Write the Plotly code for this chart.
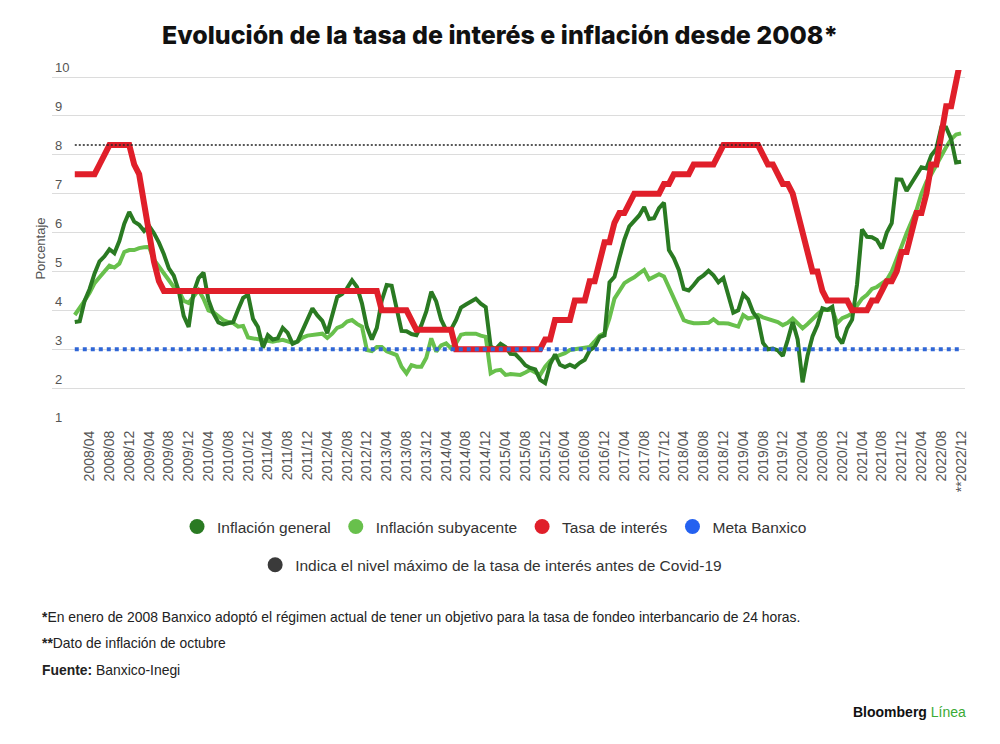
import plotly.graph_objects as go

# Monthly series, 2008/01 .. 2022/12.
months = [f"{yr}/{m:02d}" for yr in range(2008, 2023) for m in range(1, 13)]

inflacion_general = [
    3.70, 3.72, 4.25, 4.55, 4.95, 5.26, 5.39, 5.57, 5.47, 5.78, 6.23, 6.53,
    6.28, 6.20, 6.04, 6.17, 5.98, 5.74, 5.44, 5.08, 4.89, 4.50, 3.86, 3.57,
    4.46, 4.83, 4.97, 4.27, 3.92, 3.69, 3.64, 3.68, 3.70, 4.02, 4.32, 4.40,
    3.78, 3.57, 3.04, 3.36, 3.25, 3.28, 3.55, 3.42, 3.14, 3.20, 3.48, 3.82,
    4.05, 3.87, 3.73, 3.41, 3.85, 4.34, 4.42, 4.57, 4.77, 4.60, 4.18, 3.57,
    3.25, 3.55, 4.25, 4.65, 4.63, 4.09, 3.47, 3.46, 3.39, 3.36, 3.62, 3.97,
    4.48, 4.23, 3.76, 3.50, 3.51, 3.75, 4.07, 4.15, 4.22, 4.30, 4.17, 4.08,
    3.07, 3.00, 3.14, 3.06, 2.88, 2.87, 2.74, 2.59, 2.52, 2.48, 2.21, 2.13,
    2.61, 2.87, 2.60, 2.54, 2.60, 2.54, 2.65, 2.73, 2.97, 3.06, 3.31, 3.36,
    4.72, 4.86, 5.35, 5.82, 6.16, 6.31, 6.44, 6.66, 6.35, 6.37, 6.63, 6.77,
    5.55, 5.34, 5.04, 4.55, 4.51, 4.65, 4.81, 4.90, 5.02, 4.90, 4.72, 4.83,
    4.37, 3.94, 4.00, 4.41, 4.28, 3.95, 3.78, 3.16, 3.00, 3.02, 2.97, 2.83,
    3.24, 3.70, 3.25, 2.15, 2.84, 3.33, 3.62, 4.05, 4.01, 4.09, 3.33, 3.15,
    3.54, 3.76, 4.67, 6.08, 5.89, 5.88, 5.81, 5.59, 6.00, 6.24, 7.37, 7.36,
    7.07, 7.28, 7.45, 7.68, 7.65, 7.99, 8.15, 8.70, 8.70, 8.41, 7.80, 7.82,
]

inflacion_subyacente = [
    3.88, 4.05, 4.25, 4.45, 4.70, 4.85, 5.00, 5.15, 5.10, 5.20, 5.50, 5.55,
    5.55, 5.60, 5.62, 5.63, 5.30, 5.12, 4.95, 4.78, 4.60, 4.50, 4.25, 4.19,
    4.35, 4.52, 4.30, 4.00, 3.95, 3.85, 3.75, 3.70, 3.67, 3.58, 3.60, 3.30,
    3.28, 3.24, 3.22, 3.20, 3.19, 3.22, 3.24, 3.20, 3.16, 3.20, 3.30, 3.35,
    3.36, 3.37, 3.40, 3.29, 3.40, 3.55, 3.60, 3.71, 3.75, 3.65, 3.58, 2.98,
    2.95, 3.06, 3.06, 2.95, 2.90, 2.85, 2.55, 2.38, 2.59, 2.55, 2.55, 2.78,
    3.28, 2.94, 3.10, 3.15, 3.02, 3.15, 3.37, 3.40, 3.40, 3.40, 3.35, 3.32,
    2.38, 2.45, 2.47, 2.34, 2.36, 2.35, 2.34, 2.40, 2.47, 2.40, 2.34, 2.55,
    2.70, 2.80, 2.85, 2.90, 2.98, 3.00, 3.00, 3.03, 3.06, 3.20, 3.35, 3.41,
    3.80, 4.30, 4.50, 4.70, 4.78, 4.85, 4.95, 5.04, 4.80, 4.86, 4.93, 4.87,
    4.60, 4.30, 4.00, 3.75, 3.70, 3.67, 3.67, 3.68, 3.68, 3.77, 3.67, 3.67,
    3.66, 3.62, 3.58, 3.88, 3.79, 3.82, 3.88, 3.82, 3.78, 3.75, 3.70, 3.62,
    3.68, 3.79, 3.65, 3.54, 3.65, 3.79, 3.90, 4.01, 4.01, 4.01, 3.67, 3.80,
    3.85, 3.92, 4.12, 4.30, 4.40, 4.55, 4.60, 4.70, 4.78, 5.00, 5.30, 5.65,
    5.98, 6.30, 6.58, 7.00, 7.30, 7.50, 7.75, 7.95, 8.20, 8.40, 8.52, 8.55,
]

tasa_interes = [
    7.50, 7.50, 7.50, 7.50, 7.50, 7.75, 8.00, 8.25, 8.25, 8.25, 8.25, 8.25,
    7.75, 7.50, 6.75, 6.00, 5.25, 4.75, 4.50, 4.50, 4.50, 4.50, 4.50, 4.50,
    4.50, 4.50, 4.50, 4.50, 4.50, 4.50, 4.50, 4.50, 4.50, 4.50, 4.50, 4.50,
    4.50, 4.50, 4.50, 4.50, 4.50, 4.50, 4.50, 4.50, 4.50, 4.50, 4.50, 4.50,
    4.50, 4.50, 4.50, 4.50, 4.50, 4.50, 4.50, 4.50, 4.50, 4.50, 4.50, 4.50,
    4.50, 4.50, 4.00, 4.00, 4.00, 4.00, 4.00, 4.00, 3.75, 3.50, 3.50, 3.50,
    3.50, 3.50, 3.50, 3.50, 3.50, 3.00, 3.00, 3.00, 3.00, 3.00, 3.00, 3.00,
    3.00, 3.00, 3.00, 3.00, 3.00, 3.00, 3.00, 3.00, 3.00, 3.00, 3.00, 3.25,
    3.25, 3.75, 3.75, 3.75, 3.75, 4.25, 4.25, 4.25, 4.75, 4.75, 5.25, 5.75,
    5.75, 6.25, 6.50, 6.50, 6.75, 7.00, 7.00, 7.00, 7.00, 7.00, 7.00, 7.25,
    7.25, 7.50, 7.50, 7.50, 7.50, 7.75, 7.75, 7.75, 7.75, 7.75, 8.00, 8.25,
    8.25, 8.25, 8.25, 8.25, 8.25, 8.25, 8.25, 8.00, 7.75, 7.75, 7.50, 7.25,
    7.25, 7.00, 6.50, 6.00, 5.50, 5.00, 5.00, 4.50, 4.25, 4.25, 4.25, 4.25,
    4.25, 4.00, 4.00, 4.00, 4.00, 4.25, 4.25, 4.50, 4.75, 4.75, 5.00, 5.50,
    5.50, 6.00, 6.50, 6.50, 7.00, 7.75, 7.75, 8.50, 9.25, 9.25, 10.00, 10.50,
]

meta_banxico = 3.0
max_pre_covid = 8.25

tick_months = months[3::4]
tick_labels = tick_months[:-1] + ["**" + tick_months[-1]]

names = ["Inflación general", "Inflación subyacente", "Tasa de interés", "Meta Banxico"]
max_name = "Indica el nivel máximo de la tasa de interés antes de Covid-19"

c_general = "#2a7a22"
c_suby = "#68c04c"
c_tasa = "#e01f2a"
c_meta = "#2f66d6"
c_max = "#222222"

fig = go.Figure()

fig.add_trace(go.Scatter(x=months, y=inflacion_subyacente, mode="lines",
                         line=dict(color=c_suby, width=4), showlegend=False))
fig.add_trace(go.Scatter(x=months, y=inflacion_general, mode="lines",
                         line=dict(color=c_general, width=4), showlegend=False))
fig.add_trace(go.Scatter(x=months, y=tasa_interes, mode="lines",
                         line=dict(color=c_tasa, width=6), showlegend=False))
fig.add_trace(go.Scatter(x=months, y=[meta_banxico] * len(months), mode="lines",
                         line=dict(color=c_meta, width=4, dash="dot"), showlegend=False))
fig.add_trace(go.Scatter(x=months, y=[max_pre_covid] * len(months), mode="lines",
                         line=dict(color=c_max, width=1.5, dash="2px,2px"), showlegend=False))

# legend-only entries (circles)
for n, c in zip(names, [c_general, c_suby, c_tasa, "#2461f0"]):
    fig.add_trace(go.Scatter(x=[None], y=[None], mode="markers", name=n,
                             marker=dict(color=c, size=15), legend="legend"))
fig.add_trace(go.Scatter(x=[None], y=[None], mode="markers", name=max_name,
                         marker=dict(color="#3a3a3a", size=15), legend="legend2"))

note_font = dict(family="Liberation Sans, Arial, sans-serif", size=13.9, color="#222")

fig.update_layout(
    width=1000, height=744,
    paper_bgcolor="white", plot_bgcolor="white",
    margin=dict(l=52, r=35, t=70, b=317),
    font=dict(family="Liberation Sans, Arial, sans-serif", color="#555"),
    title=dict(text="Evolución de la tasa de interés e inflación desde 2008*",
               x=0.5, xanchor="center", y=0.952, yanchor="middle",
               font=dict(family="Inter, Liberation Sans, sans-serif", size=25,
                         color="#111", weight=800)),
    xaxis=dict(type="category", range=[-4.6, 179.8],
               tickmode="array", tickvals=tick_months, ticktext=tick_labels,
               tickangle=-90, tickfont=dict(size=14, color="#555"),
               showgrid=False, showline=False, ticks="", zeroline=False),
    yaxis=dict(range=[1, 10.18], tickvals=list(range(1, 11)),
               ticklabelposition="inside top", ticklabeloverflow="allow",
               tickfont=dict(size=13, color="#555"),
               showgrid=True, gridcolor="#dcdcdc", gridwidth=1, zeroline=False,
               title=dict(text="Porcentaje", font=dict(size=13, color="#555"), standoff=6)),
    legend=dict(orientation="h", x=0.4847, xanchor="center", y=-0.28, yanchor="middle",
                font=dict(size=15.5, color="#333"), itemwidth=30, tracegroupgap=0),
    legend2=dict(orientation="h", x=0.481, xanchor="center", y=-0.387, yanchor="middle",
                 font=dict(size=15.5, color="#333"), itemwidth=30),
)

footer = [
    ("<b>*</b>En enero de 2008 Banxico adoptó el régimen actual de tener un objetivo "
     "para la tasa de fondeo interbancario de 24 horas.", -0.532),
    ("<b>**</b>Dato de inflación de octubre", -0.605),
    ("<b>Fuente:</b> Banxico-Inegi", -0.68),
]
for txt, yy in footer:
    fig.add_annotation(text=txt, xref="paper", yref="paper", x=-0.013, y=yy,
                       xanchor="left", yanchor="middle", showarrow=False, font=note_font)

fig.add_annotation(text="<b>Bloomberg</b> <span style='color:#3aaa35'>Línea</span>",
                   xref="paper", yref="paper", x=1.003, y=-0.798,
                   xanchor="right", yanchor="middle", showarrow=False,
                   font=dict(family="Liberation Sans, Arial, sans-serif", size=14, color="#111"))

# page has a default 8px body margin; drop it so the figure sits at 0,0
fig.write_html("out.html", config={"displayModeBar": False},
               post_script="document.body.style.margin='0';")
